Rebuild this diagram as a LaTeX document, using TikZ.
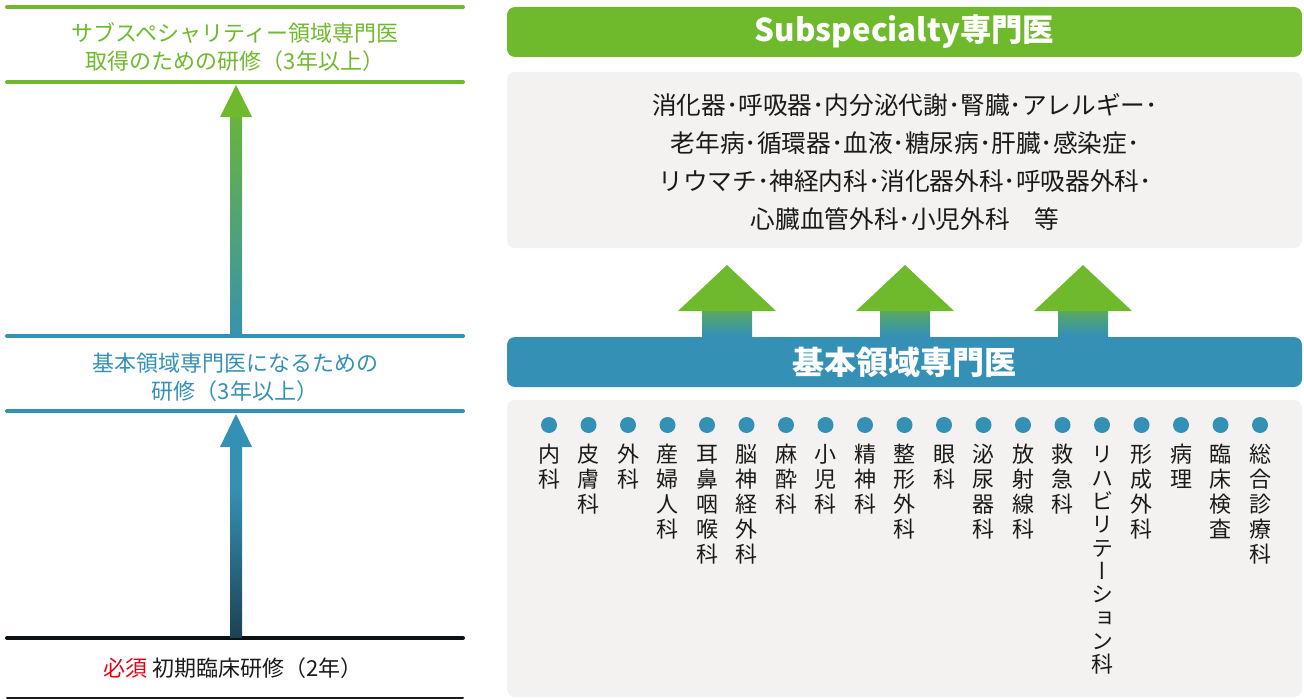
\documentclass[tikz,border=0pt]{standalone}
\usepackage{fontspec}
\setmainfont{Noto Sans CJK JP}
\newfontfamily\tatefont[RawFeature=+vert]{Noto Sans CJK JP}
\usepackage{tikz}
\usetikzlibrary{positioning}

\definecolor{kgreen}{HTML}{6FB92C}
\definecolor{kblue}{HTML}{3590B5}
\definecolor{kgray}{HTML}{F3F2F0}
\definecolor{kred}{HTML}{E60012}
\definecolor{kdark}{HTML}{0B1115}
\definecolor{ktext}{HTML}{1A1A1A}

\pgfdeclareverticalshading{greenblue}{100bp}{color(0bp)=(kblue); color(22bp)=(kblue); color(82bp)=(kgreen); color(100bp)=(kgreen)}
\pgfdeclareverticalshading{bluedark}{100bp}{color(0bp)=(kdark); color(64bp)=(kblue); color(100bp)=(kblue)}
\pgfdeclareverticalshading{shortgb}{100bp}{color(0bp)=(kblue); color(30bp)=(kblue); color(100bp)=(kgreen)}

\makeatletter
\newcommand\tate[2][18.75pt]{\vbox{\baselineskip=#1\lineskip=0pt\lineskiplimit=-20pt%
  \@tfor\tch:=#2\do{\hbox to 1em{\vrule height .88em depth .12em width 0pt\hss\tch\hss}}}}
\makeatother

\begin{document}
\begin{tikzpicture}[x=0.75pt,y=-0.75pt,
    stageline/.style={line width=3pt,line cap=round},
    stagetext/.style={align=center,font=\fontsize{16.5pt}{21pt}\selectfont},
    panel/.style={rounded corners=6pt,minimum width=596.25pt,inner sep=0pt},
    dot/.style={circle,fill=kblue,minimum size=12pt,inner sep=0pt},
    dept/.style={inner sep=0pt,text=ktext,font=\tatefont\fontsize{16.5pt}{18.75pt}\selectfont}]
  \useasboundingbox (0,0) rectangle (1304,699);

  % left: stages
  \draw[stageline,kgreen] (7,7) -- (463,7);
  \node[stagetext,text=kgreen] (subtrain) at (235,47) {サブスペシャリティー領域専門医\\取得のための研修（3年以上）};
  \draw[stageline,kgreen] (7,82) -- (463,82);

  \draw[stageline,kblue] (7,336) -- (463,336);
  \node[stagetext,text=kblue] (basetrain) at (235,377) {基本領域専門医になるための\\研修（3年以上）};
  \draw[stageline,kblue] (7,411) -- (463,411);

  \draw[stageline,kdark] (7,638) -- (463,638);
  \node[stagetext,text=ktext] (inittrain) at (233,668) {\textcolor{kred}{必須} 初期臨床研修（2年）};
  \draw[line width=1.5pt,line cap=round,ktext] (7,698) -- (463,698);

  % left: arrows
  \shade[shading=greenblue] (230,116) rectangle (242,336);
  \fill[kgreen] (236,85) -- (252,117) -- (220,117) -- cycle;
  \shade[shading=bluedark] (230,446) rectangle (242,637);
  \fill[kblue] (236,414) -- (252,447) -- (220,447) -- cycle;

  % right: subspecialty
  \node[panel,fill=kgreen,minimum height=37.5pt,text=white,font=\bfseries\fontsize{23.5pt}{28pt}\selectfont] (subsp) at (904.5,32) {Subspecialty専門医};
  \node[panel,fill=kgray,minimum height=132pt] (subspbox) at (904.5,160) {};
  \node[align=center,text=ktext,font=\fontsize{18.5pt}{28.5pt}\selectfont] (subsplist) at (905,162)
    {消化器･呼吸器･内分泌代謝･腎臓･アレルギー･\\老年病･循環器･血液･糖尿病･肝臓･感染症･\\リウマチ･神経内科･消化器外科･呼吸器外科･\\心臓血管外科･小児外科　等};

  % right: arrows up to subspecialty
  \foreach \ax in {727,905,1083} {
    \shade[shading=shortgb] ({\ax-25},310) rectangle ({\ax+25},338);
    \fill[kgreen] (\ax,265) -- ({\ax+49},311) -- ({\ax-49},311) -- cycle;
  }

  % right: basic fields
  \node[panel,fill=kblue,minimum height=37.5pt,text=white,font=\bfseries\fontsize{24pt}{28pt}\selectfont] (basic) at (904.5,362) {基本領域専門医};
  \node[panel,fill=kgray,minimum height=222.75pt] (basicbox) at (904.5,548.5) {};
  \foreach \dname [count=\i from 0] in {内科,皮膚科,外科,産婦人科,耳鼻咽喉科,脳神経外科,麻酔科,小児科,精神科,整形外科,眼科,泌尿器科,放射線科,救急科,リハビリテーション科,形成外科,病理,臨床検査,総合診療科} {
    \ifnum\i=14 \def\dpitch{17.5pt}\else\def\dpitch{18.75pt}\fi
    \edef\dtext{\noexpand\tate[\dpitch]{\dname}}
    \node[dot] (dot\i) at ({549+39.5*\i},425) {};
    \node[dept,below=7.5pt of dot\i] (dept\i) {\dtext};
  }
\end{tikzpicture}
\end{document}
